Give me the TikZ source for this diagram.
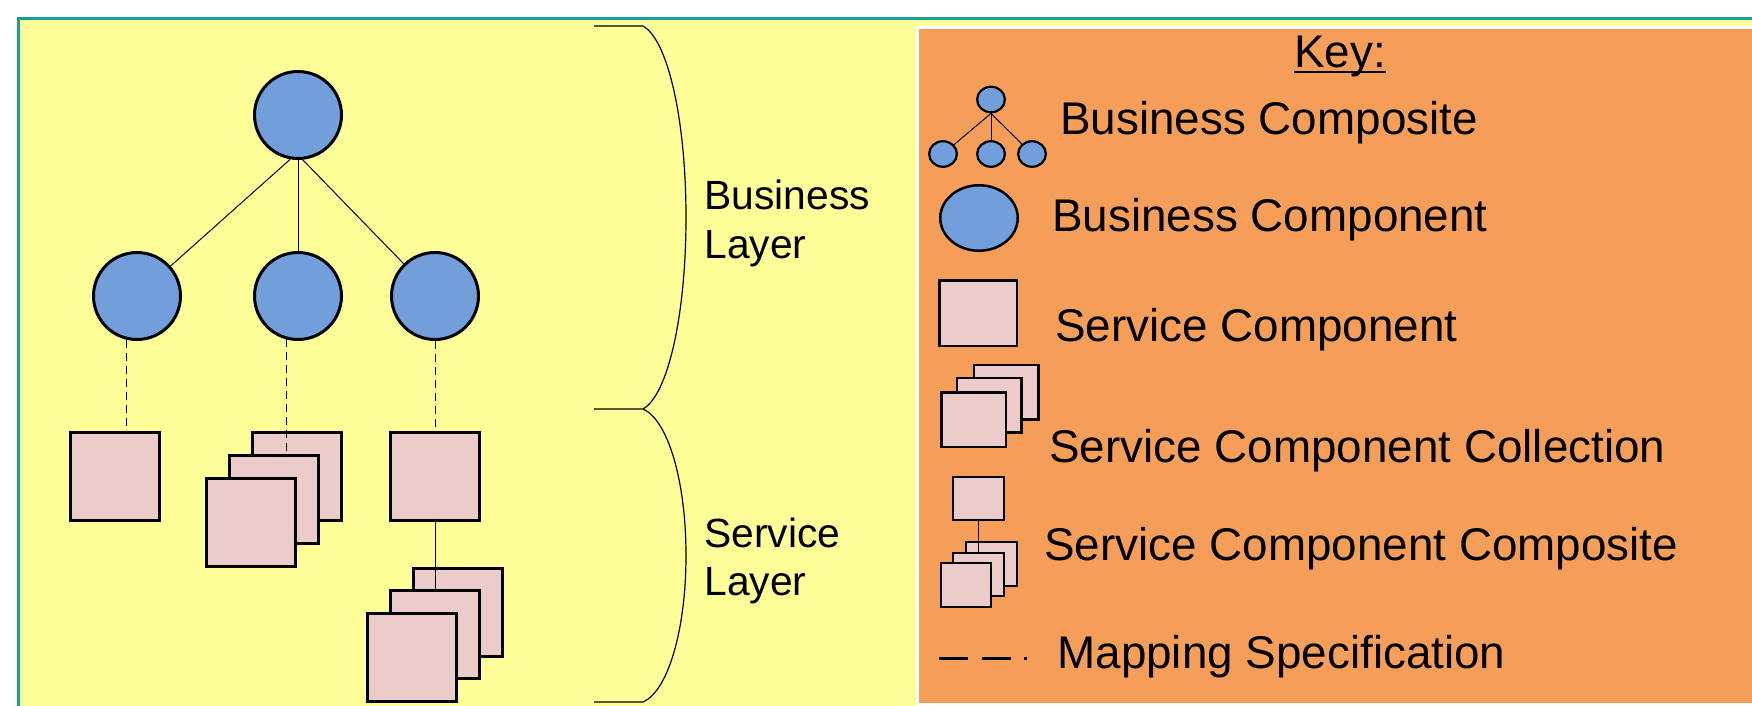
\documentclass[tikz,border=0pt]{standalone}
\usepackage{fontspec}
\setmainfont{Liberation Sans}
\usetikzlibrary{shapes.geometric}
\definecolor{frameteal}{RGB}{22,160,155}
\definecolor{bgyellow}{RGB}{255,255,153}
\definecolor{keyorange}{RGB}{245,158,89}
\definecolor{compblue}{RGB}{114,159,219}
\definecolor{svcpink}{RGB}{236,204,203}
\begin{document}
\begin{tikzpicture}[x=0.5pt,y=-0.5pt,
  bcomp/.style={circle,draw=black,fill=compblue,line width=1.5pt,inner sep=0pt,minimum size=43.5pt},
  scomp/.style={rectangle,draw=black,fill=svcpink,line width=1.5pt,inner sep=0pt,minimum width=44.5pt,minimum height=44pt},
  link/.style={draw=black,line width=0.5pt},
  mapline/.style={draw=black,line width=0.5pt,dash pattern=on 4pt off 2.5pt},
  brace/.style={draw=black,line width=0.6pt},
  layertext/.style={inner sep=0pt,anchor=base west,font=\fontsize{20.4pt}{24pt}\selectfont},
  keytext/.style={inner sep=0pt,anchor=base west,font=\fontsize{22.9pt}{27pt}\selectfont},
  ksmall/.style={ellipse,draw=black,fill=compblue,line width=1.1pt,inner sep=0pt,minimum width=13.9pt,minimum height=12.8pt},
  kbig/.style={ellipse,draw=black,fill=compblue,line width=1.25pt,inner sep=0pt,minimum width=38.75pt,minimum height=32.75pt},
  ksq/.style={rectangle,draw=black,fill=svcpink,line width=1.25pt,inner sep=0pt,minimum width=38.75pt,minimum height=32.75pt},
  kcoll/.style={rectangle,draw=black,fill=svcpink,line width=1.25pt,inner sep=0pt,minimum width=32.25pt,minimum height=27.25pt},
  kcomp/.style={rectangle,draw=black,fill=svcpink,line width=1.1pt,inner sep=0pt,minimum width=25.3pt,minimum height=21.8pt}
]
\useasboundingbox (0,0) rectangle (1752,706);
% background and frame
\fill[white] (0,0) rectangle (1752,706);
\fill[bgyellow] (20,20) rectangle (1752,706);
\draw[frameteal,line width=1.5pt] (18.5,706) -- (18.5,18.5) -- (1752,18.5);
% key panel
\fill[white] (916,26) rectangle (1752,706);
\fill[keyorange] (919,29) rectangle (1752,703);

% business layer
\node[bcomp] (t) at (298,115) {};
\node[bcomp] (c1) at (137,296) {};
\node[bcomp] (c2) at (298,296) {};
\node[bcomp] (c3) at (435,296) {};
\draw[link] (t.-100) -- (c1);
\draw[link] (t.south) -- (c2.north);
\draw[link] (t.-84) -- (c3);

% service layer
\node[scomp] (s1) at (115,476.5) {};
\draw[mapline] (c1.-104) -- (c1.-104 |- s1.north);

\node[scomp] (b2) at (297,476.5) {};
\node[scomp] (m2) at (274,499) {};
\draw[mapline] (c2.-105) -- (c2.-105 |- m2.north);
\node[scomp] (m2b) at (274,499) {};
\node[scomp] (f2) at (251,522) {};

\node[scomp] (s3) at (435,476.5) {};
\draw[mapline] (c3.south) -- (s3.north);
\node[scomp] (b3) at (458,612) {};
\node[scomp] (m3) at (435,634.5) {};
\draw[link] (s3.south) -- (m3.north);
\node[scomp] (f3) at (412,657) {};

% braces
\draw[brace] (594,26) -- (643,26) .. controls (668,40) and (686,120) .. (686,217.5)
  .. controls (686,315) and (668,395) .. (643,409) -- (594,409);
\draw[brace] (643,409) .. controls (668,420) and (686,481) .. (686,555.5)
  .. controls (686,630) and (668,691) .. (643,702) -- (594,702);

\node[layertext] (bl1) at (704,210) {Business};
\node[layertext] (bl2) at (704,258) {Layer};
\node[layertext] (sl1) at (704,547) {Service};
\node[layertext] (sl2) at (704,595) {Layer};

% key
\node[keytext,anchor=base] (key) at (1340,68) {Key:};
\draw[line width=1pt] ([yshift=-2pt]key.base west) -- ([yshift=-2pt]key.base east);

\node[ksmall] (kt) at (991,99.5) {};
\node[ksmall] (kl) at (943,154) {};
\node[ksmall] (km) at (991,154) {};
\node[ksmall] (kr) at (1032,154) {};
\draw[link] (kt.south) -- (kl);
\draw[link] (kt.south) -- (km.north);
\draw[link] (kt.south) -- (kr);
\node[keytext] (tbc) at (1060,134) {Business Composite};

\node[kbig] (kb) at (979,218) {};
\node[keytext] (tbcomp) at (1052,231) {Business Component};

\node[ksq] (ks) at (978,313) {};
\node[keytext] (tsc) at (1055,341) {Service Component};

\node[kcoll] (kc1) at (1006,392) {};
\node[kcoll] (kc2) at (989,405) {};
\node[kcoll] (kc3) at (973.5,419.5) {};
\node[keytext] (tscc) at (1049,462) {Service Component Collection};

\node[kcomp] (kp0) at (978.5,498.5) {};
\node[kcomp] (kp1) at (991.5,564) {};
\node[kcomp] (kp2) at (978.5,574.5) {};
\draw[link] (kp0.south) -- (kp2.north);
\node[kcomp] (kp2b) at (978.5,574.5) {};
\node[kcomp] (kp3) at (966,585) {};
\node[keytext] (tscp) at (1044,560) {Service Component Composite};

\coordinate (ma) at (939,658);
\coordinate (mb) at (1027,658);
\draw[line width=1.5pt,dash pattern=on 14.5pt off 6.75pt] (ma) -- (mb);
\node[keytext] (tms) at (1057,668) {Mapping Specification};
\end{tikzpicture}
\end{document}
